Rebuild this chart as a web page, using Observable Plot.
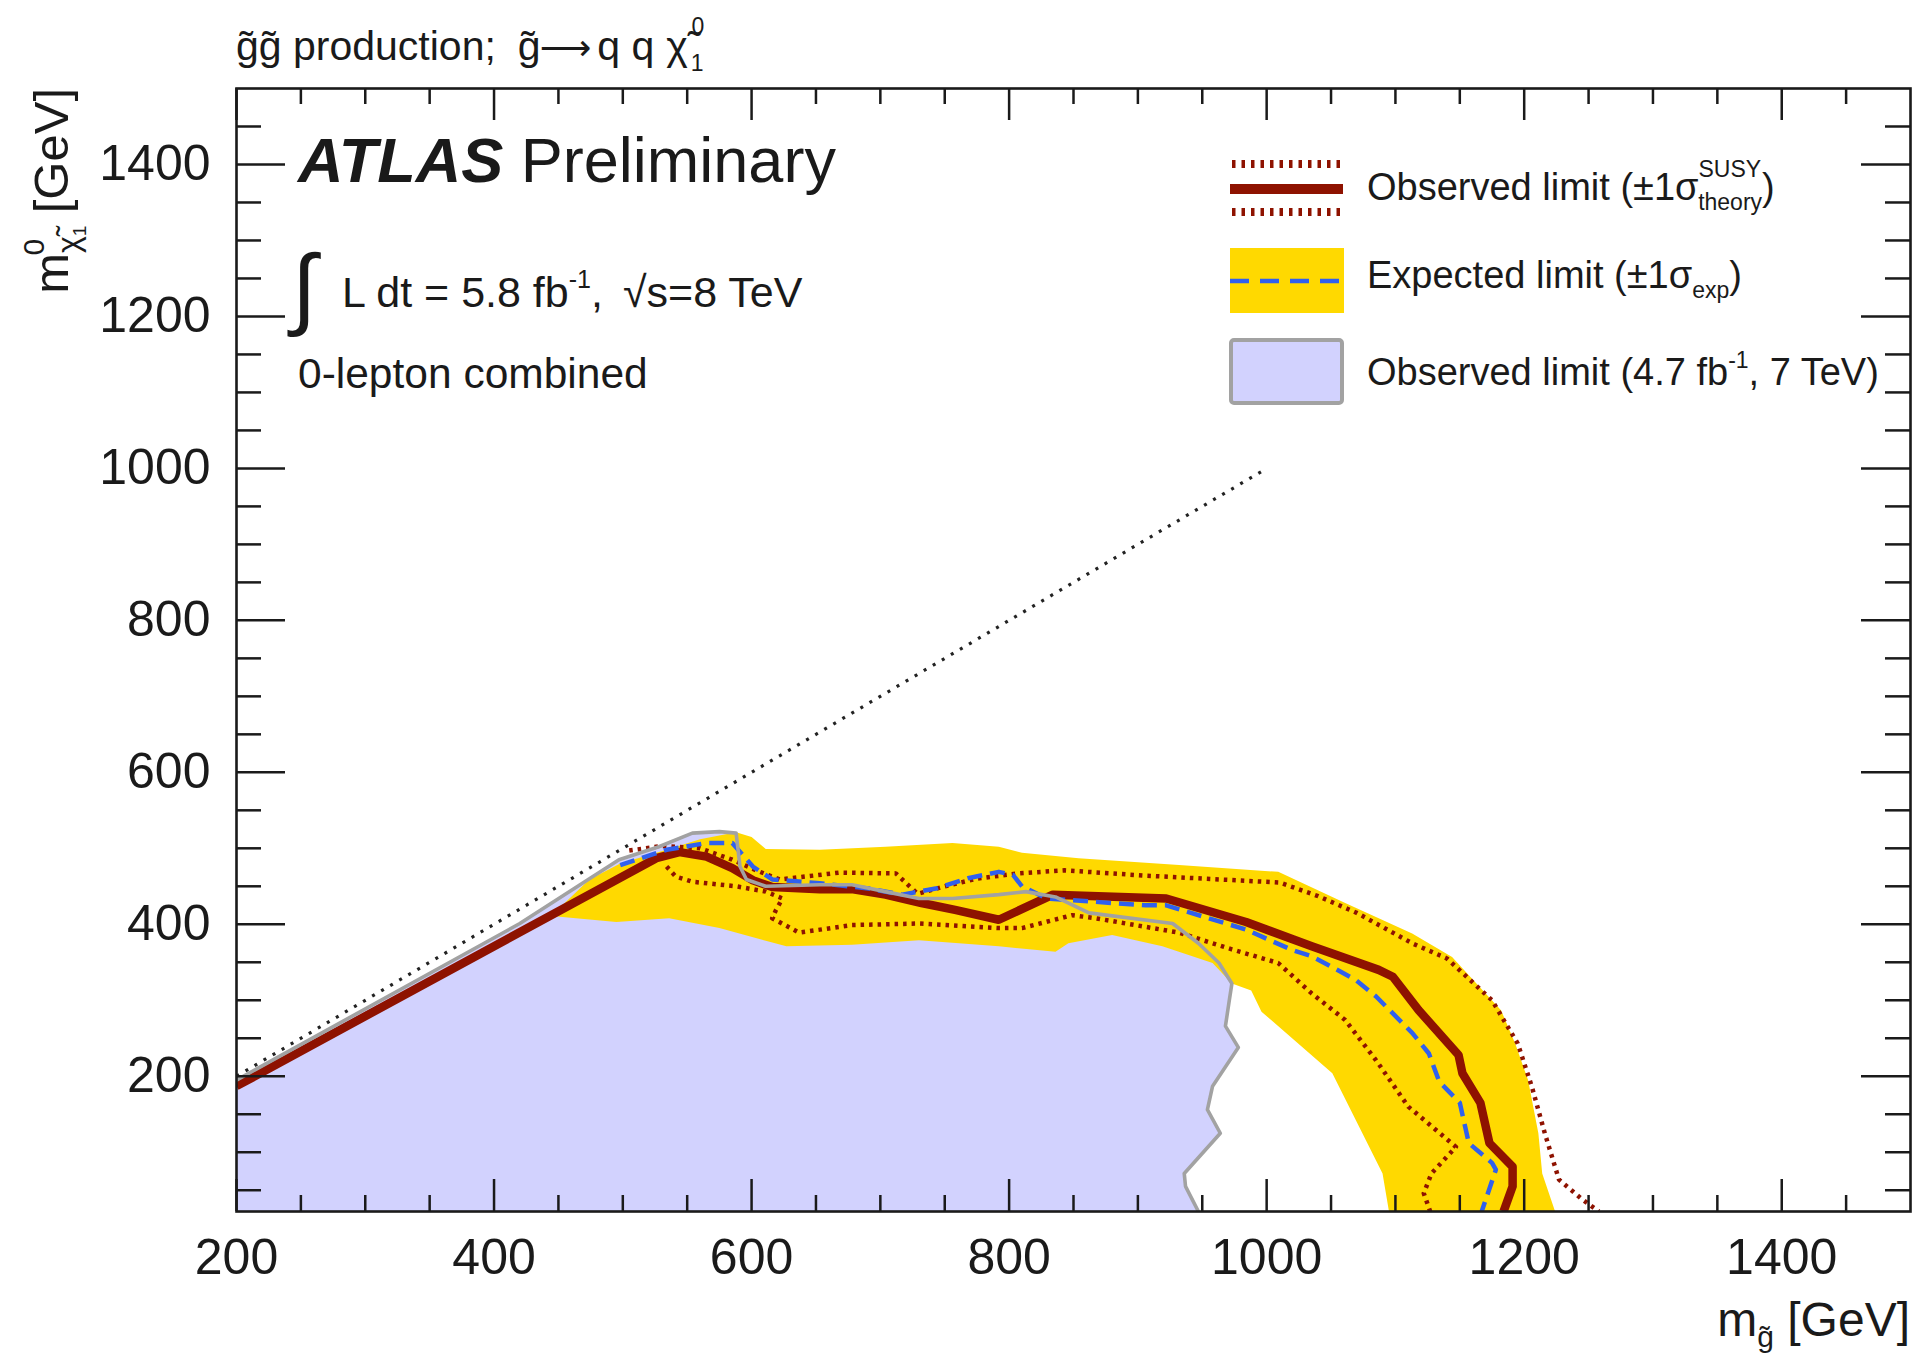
<!DOCTYPE html>
<html>
<head>
<meta charset="utf-8">
<title>gluino pair production limit</title>
<script src="https://cdn.jsdelivr.net/npm/d3@7"></script>
<script src="https://cdn.jsdelivr.net/npm/@observablehq/plot@0.6"></script>
<style>
  html, body { margin: 0; padding: 0; background: #fff; }
  #wrap { position: relative; width: 1922px; height: 1359px; overflow: hidden; }
  #wrap > svg { position: absolute; left: 0; top: 0; }
</style>
</head>
<body>
<div id="wrap"></div>
<script>
// ---------------- data (all values in GeV) ----------------
const xDomain = [200, 1500];
const yDomain = [22, 1500];
const xMajor = [200, 400, 600, 800, 1000, 1200, 1400];
const xMinor = [250, 300, 350, 450, 500, 550, 650, 700, 750, 850, 900, 950, 1050, 1100, 1150, 1250, 1300, 1350, 1450];
const yMajor = [200, 400, 600, 800, 1000, 1200, 1400];
const yMinor = [50, 100, 150, 250, 300, 350, 450, 500, 550, 650, 700, 750, 850, 900, 950, 1050, 1100, 1150, 1250, 1300, 1350, 1450];

// kinematic boundary m_chi = m_gluino
const kinX = [200, 1000];
const kinY = [200, 1000];

// observed limit (solid dark red)
const obsX = [200, 526, 544, 565, 585, 601, 616, 653, 679, 704, 732, 758, 792, 834, 922, 984, 1035, 1087, 1098, 1118, 1149, 1152, 1166, 1173, 1191, 1191, 1184];
const obsY = [187, 487, 495, 489, 474, 458, 449, 446, 446, 439, 428, 419, 406, 439, 434, 403, 371, 340, 331, 287, 228, 204, 165, 112, 81, 55, 22];

// observed +1 sigma theory (dotted)
const obsUpX = [505, 530, 560, 585, 605, 622, 668, 712, 729, 750, 775, 807, 843, 906, 1010, 1040, 1070, 1113, 1140, 1175, 1195, 1206, 1216, 1227, 1245, 1258];
const obsUpY = [497, 503, 500, 485, 470, 459, 468, 467, 440, 450, 460, 467, 471, 464, 455, 437, 415, 375, 355, 300, 243, 186, 125, 64, 38, 22];

// observed -1 sigma theory (dotted)
const obsDnX = [534, 541, 554, 588, 611, 624, 619, 616, 637, 678, 730, 792, 810, 849, 867, 932, 973, 1009, 1035, 1061, 1085, 1110, 1147, 1128, 1122, 1127];
const obsDnY = [476, 463, 456, 450, 443, 434, 419, 408, 389, 399, 401, 395, 395, 412, 408, 389, 367, 349, 309, 274, 221, 160, 107, 72, 46, 22];

// expected limit (blue dashed)
const expX = [498, 534, 565, 585, 601, 616, 653, 691, 717, 743, 769, 792, 803, 810, 829, 906, 922, 984, 1020, 1035, 1069, 1085, 1113, 1126, 1134, 1150, 1157, 1175, 1178, 1167];
const expY = [478, 498, 507, 507, 476, 459, 454, 447, 439, 447, 461, 469, 465, 450, 434, 425, 425, 393, 366, 358, 327, 305, 257, 230, 193, 165, 112, 86, 77, 22];

// expected +-1 sigma band (yellow): upper edge left->right, then lower edge right->left
const bandX = [445, 474, 498, 534, 560, 588, 600, 611, 653, 704, 756, 792, 810, 854, 932, 1009, 1061, 1113, 1144, 1182, 1193, 1203, 1211, 1214, 1224,
               1095, 1090, 1051, 996, 988, 973, 958, 919, 880, 846, 836, 792, 730, 678, 627, 575, 536, 495, 451];
const bandY = [412, 459, 480, 498, 512, 521, 515, 499, 498, 502, 507, 502, 494, 487, 478, 469, 428, 388, 357, 287, 243, 195, 125, 72, 22,
               22, 72, 204, 285, 313, 322, 349, 371, 386, 375, 364, 371, 379, 373, 371, 395, 408, 403, 410];

// observed limit 4.7 fb-1, 7 TeV (grey line, lavender area below)
const oldX = [200, 420, 497, 528, 554, 575, 588, 591, 596, 611, 653, 678, 704, 730, 756, 792, 813, 836, 862, 927, 947, 963, 973, 971, 968, 978, 958, 954, 964, 936, 937, 947];
const oldY = [195, 401, 485, 502, 520, 522, 520, 476, 459, 450, 452, 452, 443, 434, 434, 439, 443, 436, 415, 401, 375, 349, 322, 300, 266, 238, 187, 156, 125, 72, 55, 22];

// ---------------- styles ----------------
const RED = "#8e1200";
const BLUE = "#3060ee";
const YELLOW = "#ffd900";
const PALE = "#d2d2fe";
const GREY = "#a2a2a2";
const INK = "#1a1a1a";
const FONT = "'Liberation Sans', Arial, Helvetica, sans-serif";

const W = 1922, H = 1359;
const mL = 236, mR = 12, mT = 88, mB = 148;
const fw = W - mL - mR, fh = H - mT - mB;

const pts = (xs, ys) => xs.map((x, i) => ({x, y: ys[i]}));
const kin = pts(kinX, kinY);
const obs = pts(obsX, obsY);
const obsUp = pts(obsUpX, obsUpY);
const obsDn = pts(obsDnX, obsDnY);
const expd = pts(expX, expY);
const band = pts(bandX, bandY);
const old = pts(oldX, oldY);
const oldArea = [{x: oldX[0], y: yDomain[0]}, ...old];

const chart = Plot.plot({
  width: W, height: H,
  marginLeft: mL, marginRight: mR, marginTop: mT, marginBottom: mB,
  x: {domain: xDomain, axis: null},
  y: {domain: yDomain, axis: null},
  style: {fontFamily: FONT, background: "transparent", color: INK},
  marks: [
    Plot.line(oldArea, {x: "x", y: "y", fill: PALE, stroke: "none", clip: true}),
    Plot.line(band, {x: "x", y: "y", fill: YELLOW, stroke: "none", clip: true}),
    Plot.line(obsUp, {x: "x", y: "y", stroke: RED, strokeWidth: 4.5, strokeDasharray: "3.5,5", strokeLinecap: "butt", clip: true}),
    Plot.line(obsDn, {x: "x", y: "y", stroke: RED, strokeWidth: 4.5, strokeDasharray: "3.5,5", strokeLinecap: "butt", clip: true}),
    Plot.line(obs, {x: "x", y: "y", stroke: RED, strokeWidth: 8.5, strokeLinecap: "butt", clip: true}),
    Plot.line(expd, {x: "x", y: "y", stroke: BLUE, strokeWidth: 4.5, strokeDasharray: "15,8", strokeLinecap: "butt", clip: true}),
    Plot.line(old, {x: "x", y: "y", stroke: GREY, strokeWidth: 3.6, clip: true}),
    Plot.line(kin, {x: "x", y: "y", stroke: "#222", strokeWidth: 3.2, strokeDasharray: "3,7.5", strokeLinecap: "butt", clip: true}),
    // ticks on all four sides, pointing inwards
    Plot.ruleX(xMajor, {insetTop: fh - 32, stroke: INK, strokeWidth: 2.5}),
    Plot.ruleX(xMinor, {insetTop: fh - 16, stroke: INK, strokeWidth: 2.5}),
    Plot.ruleX(xMajor, {insetBottom: fh - 32, stroke: INK, strokeWidth: 2.5}),
    Plot.ruleX(xMinor, {insetBottom: fh - 16, stroke: INK, strokeWidth: 2.5}),
    Plot.ruleY(yMajor, {insetRight: fw - 49, stroke: INK, strokeWidth: 2.5}),
    Plot.ruleY(yMinor, {insetRight: fw - 25, stroke: INK, strokeWidth: 2.5}),
    Plot.ruleY(yMajor, {insetLeft: fw - 49, stroke: INK, strokeWidth: 2.5}),
    Plot.ruleY(yMinor, {insetLeft: fw - 25, stroke: INK, strokeWidth: 2.5}),
    Plot.frame({stroke: INK, strokeWidth: 2.6}),
    Plot.text(xMajor, {x: d => d, text: d => String(d), frameAnchor: "bottom", lineAnchor: "bottom", dy: 62, fontSize: 50, fill: INK}),
    Plot.text(yMajor, {y: d => d, text: d => String(d), frameAnchor: "left", textAnchor: "end", lineAnchor: "middle", dx: -26, fontSize: 50, fill: INK})
  ]
});

const wrap = document.getElementById("wrap");
wrap.appendChild(chart);

// ---------------- annotations: title, labels, legend ----------------
const gt = "g\u0303";          // g with tilde
const chit = "\u03c7\u0303";   // chi with tilde
const anno = `
<svg xmlns="http://www.w3.org/2000/svg" width="${W}" height="${H}" font-family="${FONT}" fill="${INK}">
  <text x="236" y="60" font-size="41">${gt}${gt} production;<tspan dx="22">${gt}</tspan><tspan font-family="DejaVu Sans" font-size="36" dx="-1">\u27f6</tspan><tspan dx="6">q q</tspan><tspan dx="12">${chit}</tspan><tspan font-size="23" dx="3" dy="11">1</tspan><tspan font-size="23" dx="-12" dy="-37">0</tspan></text>

  <text x="298" y="182" font-size="63"><tspan font-weight="bold" font-style="italic">ATLAS</tspan> Preliminary</text>
  <text x="292" y="318" font-size="90">\u222b</text>
  <text x="342" y="307" font-size="43">L dt = 5.8 fb<tspan font-size="25" dy="-19">-1</tspan><tspan dy="19">,</tspan><tspan dx="20">\u221a</tspan><tspan>s=8 TeV</tspan></text>
  <text x="298" y="388" font-size="42.5">0-lepton combined</text>

  <line x1="1232" x2="1340" y1="164" y2="164" stroke="${RED}" stroke-width="8" stroke-dasharray="3.5,6"/>
  <line x1="1230" x2="1343" y1="189" y2="189" stroke="${RED}" stroke-width="10"/>
  <line x1="1232" x2="1340" y1="212" y2="212" stroke="${RED}" stroke-width="8" stroke-dasharray="3.5,6"/>
  <text x="1367" y="200" font-size="38">Observed limit (\u00b11\u03c3<tspan font-size="23" dy="-23">SUSY</tspan><tspan font-size="23" dx="-63" dy="33">theory</tspan><tspan dy="-10">)</tspan></text>

  <rect x="1230" y="248" width="114" height="65" fill="${YELLOW}"/>
  <line x1="1230" x2="1344" y1="281" y2="281" stroke="${BLUE}" stroke-width="4.5" stroke-dasharray="19,11"/>
  <text x="1367" y="288" font-size="38">Expected limit (\u00b11\u03c3<tspan font-size="23" dy="10">exp</tspan><tspan dy="-10">)</tspan></text>

  <rect x="1231" y="340" width="111" height="63" rx="3" fill="${PALE}" stroke="${GREY}" stroke-width="4"/>
  <text x="1367" y="385" font-size="38">Observed limit (4.7 fb<tspan font-size="23" dy="-17">-1</tspan><tspan dy="17">, 7 TeV)</tspan></text>

  <text transform="translate(68,88) rotate(-90)" text-anchor="end" font-size="49">m<tspan font-size="32" dy="11">${chit}</tspan><tspan font-size="19" dy="7">1</tspan><tspan font-size="30" dx="-30" dy="-42">0</tspan><tspan dx="12" dy="24"> [GeV]</tspan></text>
  <text x="1910" y="1336" text-anchor="end" font-size="48">m<tspan font-size="30" dy="11">${gt}</tspan><tspan dy="-11"> [GeV]</tspan></text>
</svg>`;
wrap.insertAdjacentHTML("beforeend", anno);
</script>
</body>
</html>
